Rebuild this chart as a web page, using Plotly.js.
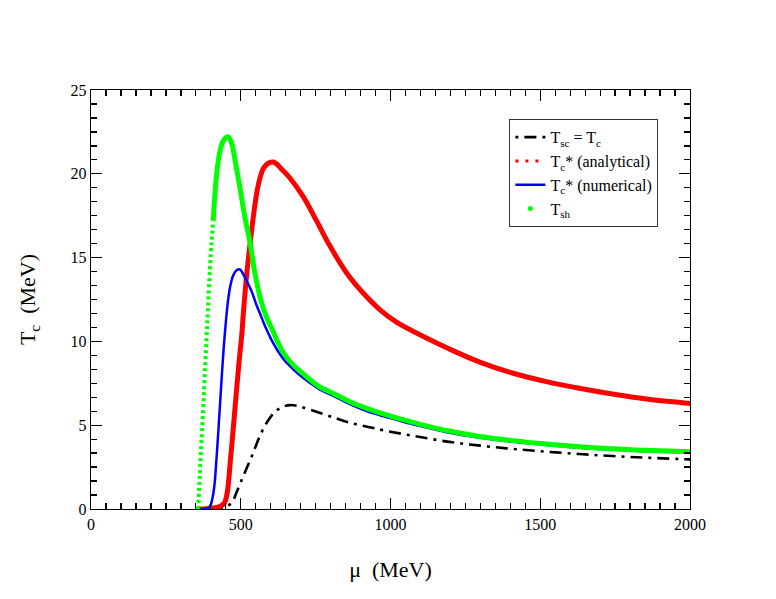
<!DOCTYPE html>
<html>
<head>
<meta charset="utf-8">
<script src="https://cdn.plot.ly/plotly-3.0.1.min.js"></script>
<style>html,body{margin:0;padding:0;background:#fff;}#chart{width:776px;height:599px;}</style>
</head>
<body>
<div id="chart"></div>
<script>
// T_sc = T_c (dash-dot black)
var muSc = [400, 440, 455, 470, 485, 503, 520, 536, 550, 565, 585, 610, 635, 665, 700, 760, 820, 870, 930, 980, 1075, 1190, 1300, 1410, 1520, 1630, 1740, 1855, 2000];
var tSc  = [0, 0.08, 0.2, 0.36, 0.95, 1.73, 2.45, 3.1, 3.75, 4.4, 5.1, 5.72, 6.05, 6.2, 6.1, 5.76, 5.4, 5.12, 4.88, 4.68, 4.37, 4.02, 3.78, 3.58, 3.42, 3.28, 3.16, 3.06, 2.96];

// T_c* (analytical) red
var muAn = [360, 400, 430, 445, 455, 465, 475, 485, 495, 503, 508, 519, 530, 542, 553, 565, 575, 586, 598, 608, 620, 635, 664, 708, 753, 797, 853, 908, 964, 1020, 1120, 1190, 1300, 1410, 1520, 1630, 1740, 1855, 2000];
var tAn  = [0, 0.05, 0.15, 0.35, 1.0, 2.8, 4.8, 6.9, 8.9, 10.3, 11.5, 13.85, 15.64, 17.43, 18.82, 19.8, 20.3, 20.55, 20.68, 20.7, 20.58, 20.3, 19.75, 18.65, 17.2, 15.72, 14.1, 12.9, 11.9, 11.15, 10.2, 9.6, 8.75, 8.1, 7.6, 7.2, 6.86, 6.56, 6.3];

// T_c* (numerical) blue
var muNum = [360, 395, 405, 412, 419, 425, 431, 437, 443, 449, 456, 465, 475, 486, 497, 507, 520, 536, 552, 569, 585, 603, 625, 647, 675, 703, 758, 814, 870, 925, 981, 1048, 1100, 1187, 1298, 1409, 1520, 1631, 1742, 1854, 2000];
var tNum  = [0, 0.1, 0.6, 1.4, 3.0, 4.6, 6.3, 8.0, 9.6, 10.9, 12.2, 13.3, 13.95, 14.25, 14.3, 14.05, 13.6, 13.0, 12.2, 11.45, 10.75, 10.08, 9.4, 8.85, 8.35, 7.9, 7.2, 6.71, 6.21, 5.81, 5.52, 5.18, 4.95, 4.58, 4.25, 4.01, 3.82, 3.66, 3.54, 3.44, 3.37];

// T_sh green
var muSh = [358, 363, 369, 375, 380, 386, 391, 397, 403, 408, 419, 430, 440, 450, 458, 470, 480, 497, 509, 519, 530, 547, 565, 585, 603, 625, 647, 675, 703, 758, 814, 870, 925, 981, 1048, 1100, 1187, 1298, 1409, 1520, 1631, 1742, 1854, 2000];
var tSh  = [0, 2.0, 4.1, 6.1, 8.1, 10.2, 12.1, 14.3, 16.0, 17.2, 19.9, 21.3, 21.9, 22.15, 22.2, 21.8, 20.9, 19.2, 17.9, 16.95, 16.0, 14.1, 12.6, 11.5, 10.8, 9.9, 9.2, 8.6, 8.15, 7.35, 6.85, 6.35, 5.98, 5.65, 5.3, 5.05, 4.68, 4.33, 4.08, 3.88, 3.72, 3.6, 3.5, 3.42];

var names = ['T<sub>sc</sub> = T<sub>c</sub>', 'T<sub>c</sub>* (analytical)', 'T<sub>c</sub>* (numerical)', 'T<sub>sh</sub>'];

// the steep rising part of T_sh is drawn with sparse dots (as in the original sampling)
var shSplit = muSh.indexOf(408);

var FONT = '"Liberation Serif", "Times New Roman", Times, serif';
var sm = {shape: 'spline', smoothing: 1};

var traces = [
  {x: muSc, y: tSc, mode: 'lines', name: names[0], showlegend: false,
   line: Object.assign({color: '#000', width: 2.6, dash: '12px,6px,3px,6px'}, sm)},
  {x: muAn, y: tAn, mode: 'lines', name: names[1], showlegend: false,
   line: Object.assign({color: '#ff0000', width: 5}, sm)},
  {x: muNum, y: tNum, mode: 'lines', name: names[2], showlegend: false,
   line: Object.assign({color: '#0000ff', width: 2.5}, sm)},
  {x: muSh.slice(0, shSplit + 1), y: tSh.slice(0, shSplit + 1), mode: 'lines', name: names[3], showlegend: false,
   line: Object.assign({color: '#00ff00', width: 4, dash: '3px,3px'}, sm)},
  {x: muSh.slice(shSplit), y: tSh.slice(shSplit), mode: 'lines', name: names[3], showlegend: false,
   line: Object.assign({color: '#00ff00', width: 5}, sm)},
  // legend entries
  {x: [null], y: [null], mode: 'lines', name: names[0], line: {color: '#000', width: 2.6, dash: '3px,6px,12px,6px'}},
  {x: [null], y: [null], mode: 'lines', name: names[1], line: {color: '#ff0000', width: 3, dash: '3px,7px'}},
  {x: [null], y: [null], mode: 'lines', name: names[2], line: {color: '#0000ff', width: 2.5}},
  {x: [null], y: [null], mode: 'markers', name: names[3], marker: {color: '#00ff00', size: 5, symbol: 'circle'}}
];

var axisCommon = {
  showline: true, linecolor: '#000', linewidth: 1.3, mirror: 'ticks',
  ticks: 'inside', ticklen: 11, tickwidth: 1.3, tickcolor: '#000',
  showgrid: false, zeroline: false,
  tickfont: {family: FONT, size: 16, color: '#000'}
};

var layout = {
  width: 776, height: 599,
  paper_bgcolor: '#fff', plot_bgcolor: '#fff',
  margin: {l: 91, r: 86, t: 90, b: 90},
  font: {family: FONT, color: '#000'},
  xaxis: Object.assign({}, axisCommon, {
    range: [0, 2000], tick0: 0, dtick: 500,
    minor: {dtick: 50, ticks: 'inside', ticklen: 6, tickwidth: 1.3, tickcolor: '#000', showgrid: false},
    title: {text: 'μ  (MeV)', font: {family: FONT, size: 22, color: '#000'}, standoff: 30}
  }),
  yaxis: Object.assign({}, axisCommon, {
    range: [0, 25], tick0: 0, dtick: 5,
    minor: {dtick: 5 / 6, ticks: 'inside', ticklen: 6, tickwidth: 1.3, tickcolor: '#000', showgrid: false},
    title: {text: 'T<sub>c</sub>  (MeV)', font: {family: FONT, size: 22, color: '#000'}, standoff: 28}
  }),
  legend: {
    x: 0.698, y: 0.931, xanchor: 'left', yanchor: 'top',
    bgcolor: '#fff', bordercolor: '#333', borderwidth: 1.3,
    font: {family: FONT, size: 16, color: '#000'},
    tracegroupgap: 0, itemwidth: 30
  },
  showlegend: true
};

Plotly.newPlot('chart', traces, layout, {displayModeBar: false, staticPlot: true});
</script>
</body>
</html>
